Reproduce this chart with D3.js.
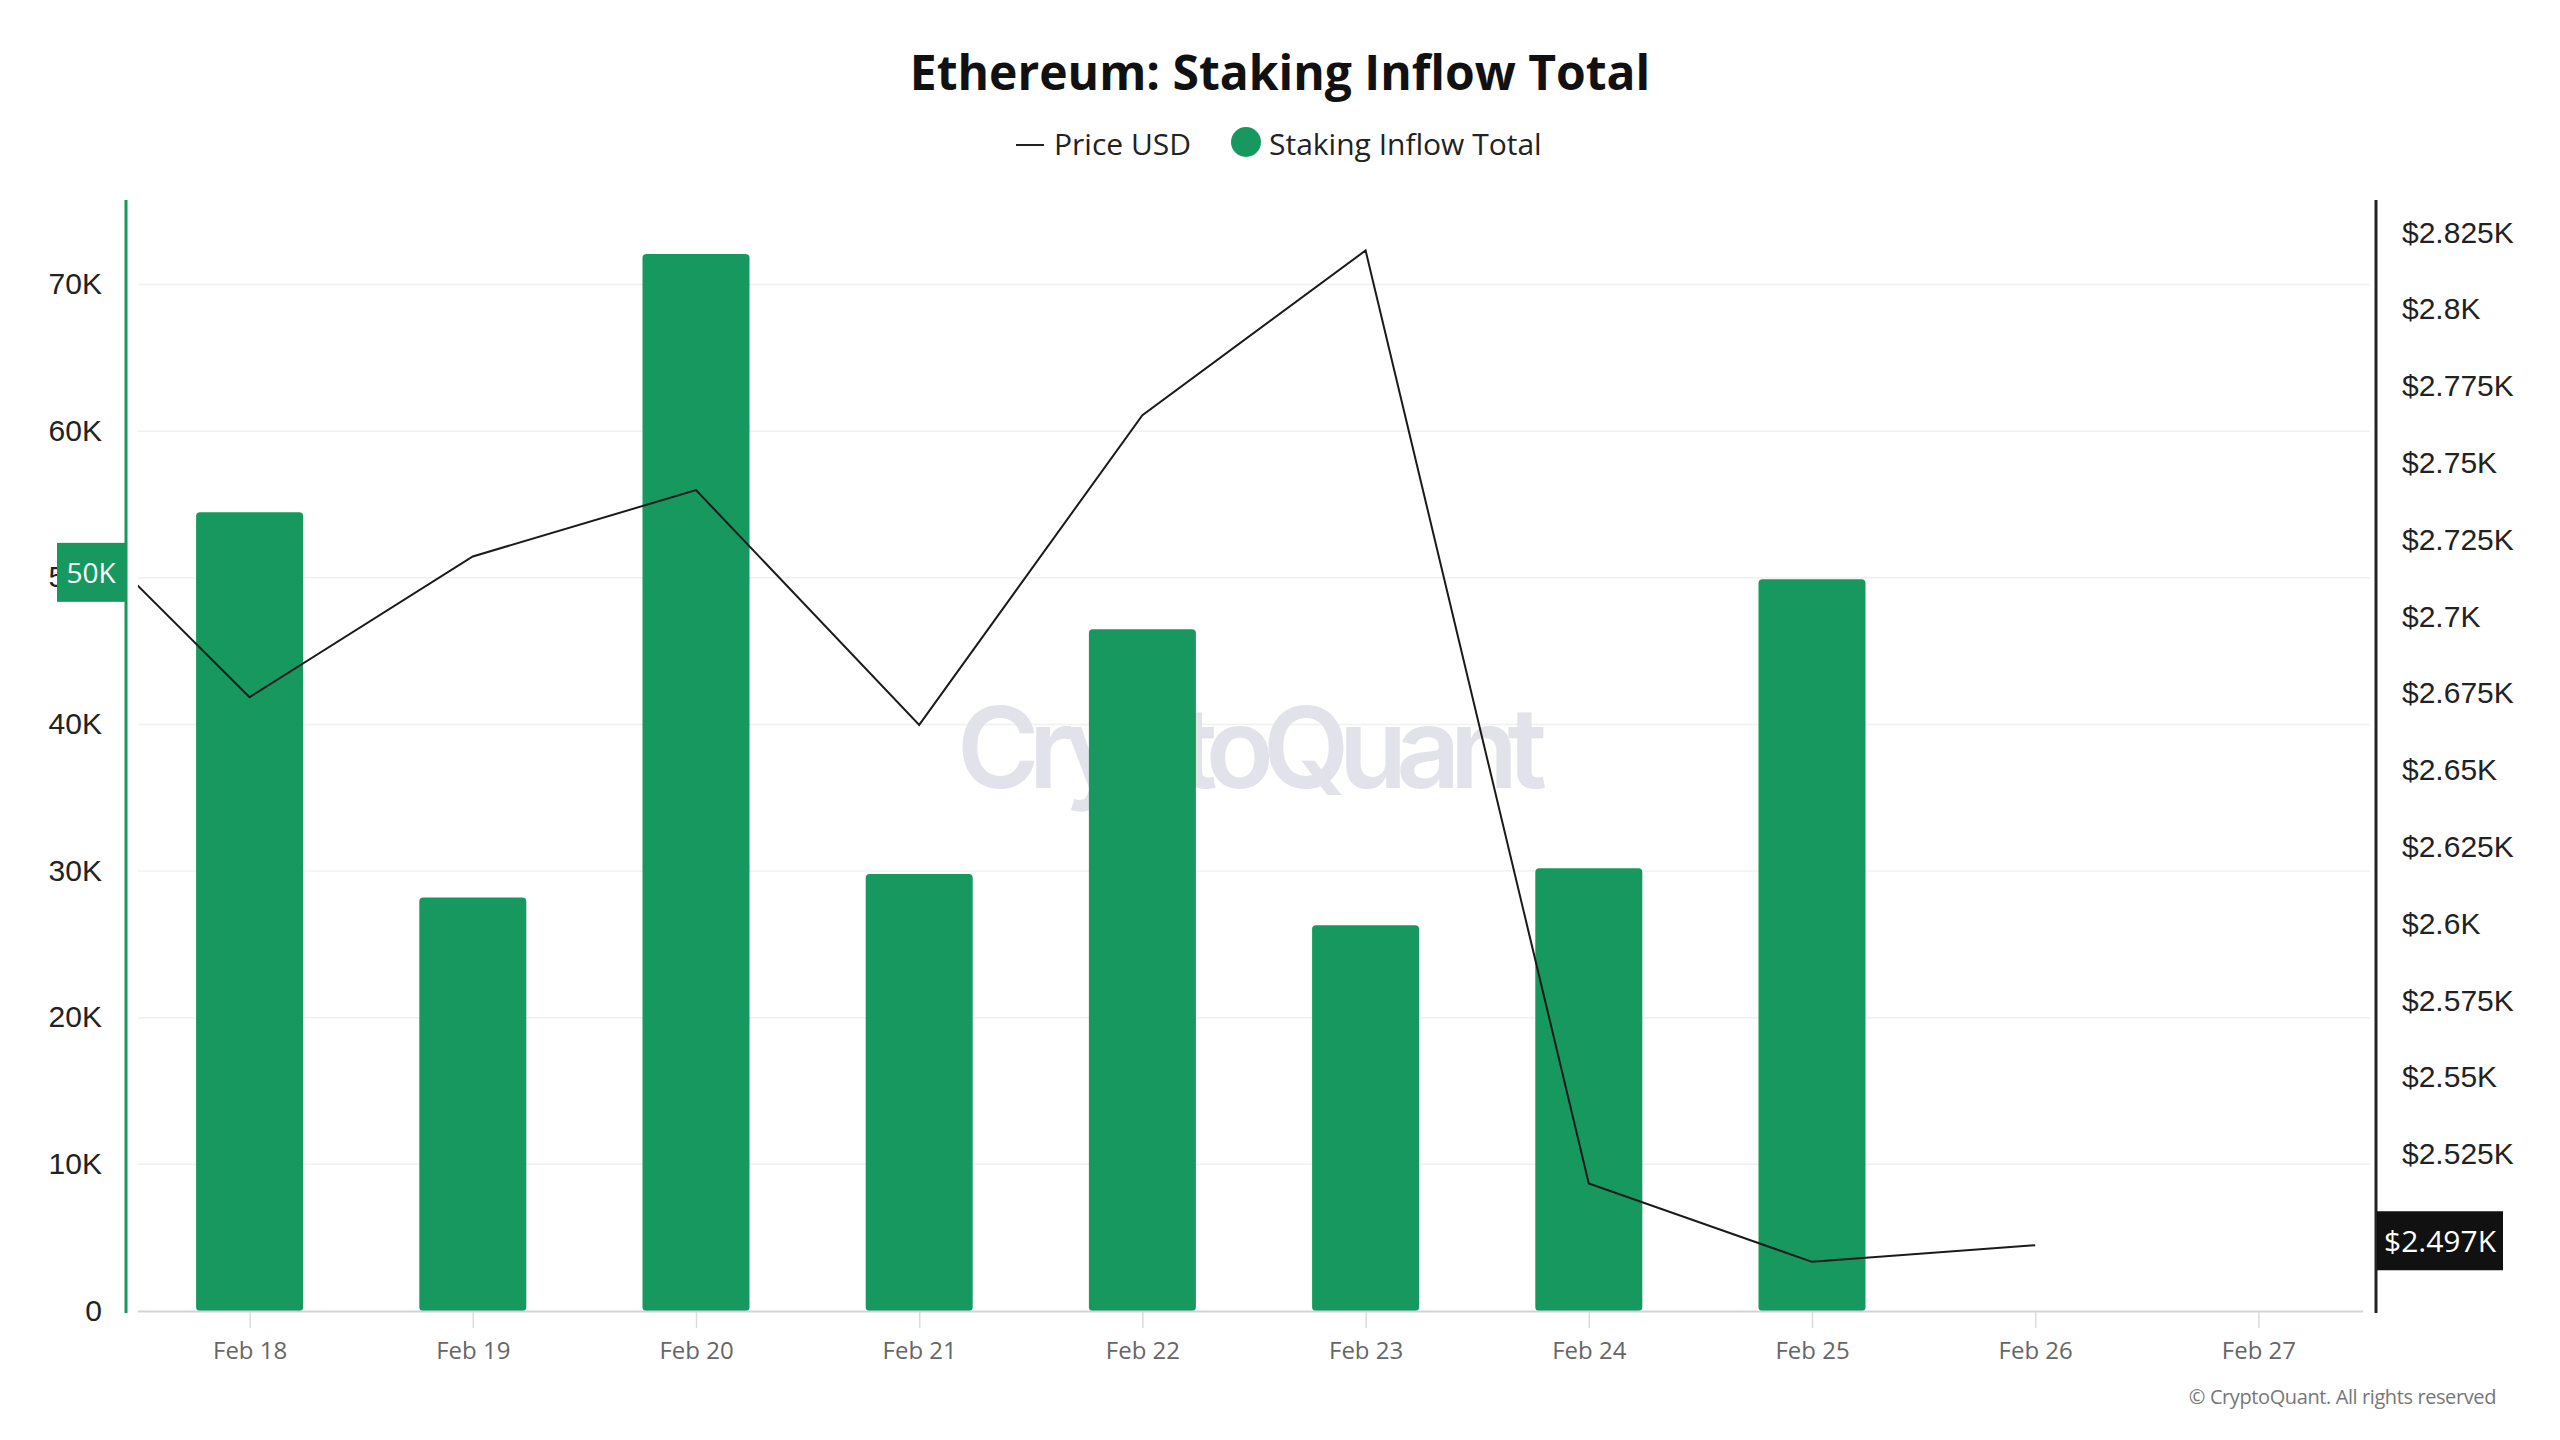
<!DOCTYPE html>
<html>
<head>
<meta charset="utf-8">
<script src="https://cdn.jsdelivr.net/npm/d3@7"></script>
<style>
  body { margin: 0; background: #fff; }
  svg { display: block; font-family: "Open Sans", sans-serif; }
</style>
</head>
<body>
<script>
// data
const dates = ["2025-02-18", "2025-02-19", "2025-02-20", "2025-02-21", "2025-02-22",
               "2025-02-23", "2025-02-24", "2025-02-25", "2025-02-26", "2025-02-27"];
const inflowDates = ["2025-02-18", "2025-02-19", "2025-02-20", "2025-02-21",
                     "2025-02-22", "2025-02-23", "2025-02-24", "2025-02-25"];
const inflowValues = [54480, 28200, 72080, 29800, 46500, 26300, 30200, 49900];
const priceDates = ["2025-02-17", "2025-02-18", "2025-02-19", "2025-02-20", "2025-02-21",
                    "2025-02-22", "2025-02-23", "2025-02-24", "2025-02-25", "2025-02-26"];
const priceValues = [2747.8, 2675.4, 2721.2, 2742.8, 2666.4, 2767.2, 2820.8, 2517.1, 2491.6, 2497];
const leftTicks = [0, 10000, 20000, 30000, 40000, 50000, 60000, 70000];
const rightTicks = [2525, 2550, 2575, 2600, 2625, 2650, 2675, 2700, 2725, 2750, 2775, 2800, 2825];
const lastPrice = 2497;
const highlightInflow = 50000;

const parse = d3.timeParse("%Y-%m-%d");

const width = 2560, height = 1440;
const plot = { left: 138, right: 2370, top: 201, bottom: 1311 };
const green = "#16985e";

const svg = d3.select("body").append("svg")
    .attr("width", width)
    .attr("height", height);

const x = d3.scaleTime()
    .domain([d3.timeHour.offset(parse("2025-02-18"), -12), d3.timeHour.offset(parse("2025-02-27"), 12)])
    .range([plot.left, plot.right]);

const yLeft = d3.scaleLinear()
    .domain([0, 75700])
    .range([plot.bottom, plot.top]);

const yRight = d3.scaleLinear()
    .domain([2475.6, 2836.9])
    .range([plot.bottom, plot.top]);

// title
svg.append("text")
    .attr("x", 1280)
    .attr("y", 90)
    .attr("text-anchor", "middle")
    .attr("font-size", 48)
    .attr("font-weight", 700)
    .attr("fill", "#111")
    .text("Ethereum: Staking Inflow Total");

// legend
const legend = svg.append("g");
legend.append("line")
    .attr("x1", 1016).attr("x2", 1044)
    .attr("y1", 145).attr("y2", 145)
    .attr("stroke", "#222").attr("stroke-width", 2);
legend.append("text")
    .attr("x", 1054).attr("y", 155)
    .attr("font-size", 30).attr("fill", "#222")
    .text("Price USD");
legend.append("circle")
    .attr("cx", 1246).attr("cy", 142).attr("r", 15)
    .attr("fill", green);
legend.append("text")
    .attr("x", 1269).attr("y", 155)
    .attr("font-size", 30).attr("fill", "#222")
    .text("Staking Inflow Total");

// gridlines
svg.append("g")
    .selectAll("line")
    .data(leftTicks.filter(d => d > 0))
    .join("line")
    .attr("x1", plot.left).attr("x2", plot.right)
    .attr("y1", d => yLeft(d)).attr("y2", d => yLeft(d))
    .attr("stroke", "#f0f0f0").attr("stroke-width", 1.5);

// watermark
svg.append("text")
    .attr("x", 1252)
    .attr("y", 788)
    .attr("text-anchor", "middle")
    .attr("font-family", "Inter, sans-serif")
    .attr("font-size", 112)
    .attr("font-weight", 600)
    .attr("fill", "#e2e2ea")
    .attr("textLength", 590)
    .text("CryptoQuant");

// bars
svg.append("g")
    .selectAll("rect")
    .data(inflowDates.map((d, i) => ({ date: parse(d), value: inflowValues[i] })))
    .join("rect")
    .attr("x", d => x(d.date) - 53.5)
    .attr("width", 107)
    .attr("y", d => yLeft(d.value))
    .attr("height", d => yLeft(0) - yLeft(d.value))
    .attr("rx", 4)
    .attr("fill", green);

// x axis
const xAxis = svg.append("g")
    .attr("transform", `translate(0, ${plot.bottom})`)
    .call(d3.axisBottom(x)
        .tickValues(dates.map(parse))
        .tickFormat(d3.timeFormat("%b %-d"))
        .tickSize(17)
        .tickPadding(14));
xAxis.select(".domain").remove();
xAxis.selectAll(".tick line").attr("stroke", "#d8dce0").attr("stroke-width", 1.5);
xAxis.selectAll(".tick text")
    .attr("font-size", 24)
    .attr("fill", "#666")
    .attr("font-family", "'Open Sans', sans-serif");
svg.append("line")
    .attr("x1", plot.left).attr("x2", 2363)
    .attr("y1", plot.bottom + 0.5).attr("y2", plot.bottom + 0.5)
    .attr("stroke", "#d0d4d8").attr("stroke-width", 2);

// price line
svg.append("clipPath").attr("id", "plot-clip")
    .append("rect")
    .attr("x", plot.left).attr("y", plot.top)
    .attr("width", plot.right - plot.left).attr("height", plot.bottom - plot.top);

const line = d3.line()
    .x(d => x(d.date))
    .y(d => yRight(d.value));

svg.append("path")
    .datum(priceDates.map((d, i) => ({ date: parse(d), value: priceValues[i] })))
    .attr("clip-path", "url(#plot-clip)")
    .attr("d", line)
    .attr("fill", "none")
    .attr("stroke", "#1a1a1a")
    .attr("stroke-width", 2);

// left axis
const leftAxis = svg.append("g")
    .attr("transform", "translate(126, 0)")
    .call(d3.axisLeft(yLeft)
        .tickValues(leftTicks)
        .tickSize(0)
        .tickPadding(24)
        .tickFormat(d => d === 0 ? "0" : (d / 1000) + "K"));
leftAxis.select(".domain").remove();
leftAxis.selectAll(".tick text")
    .attr("font-size", 30)
    .attr("fill", "#222")
    .attr("dy", "0.3em");
svg.append("line")
    .attr("x1", 126).attr("x2", 126)
    .attr("y1", 200).attr("y2", 1313)
    .attr("stroke", green).attr("stroke-width", 3);

// right axis
const rightAxis = svg.append("g")
    .attr("transform", "translate(2376, 0)")
    .call(d3.axisRight(yRight)
        .tickValues(rightTicks)
        .tickSize(0)
        .tickPadding(26)
        .tickFormat(d => "$" + (d / 1000) + "K"));
rightAxis.select(".domain").remove();
rightAxis.selectAll(".tick text")
    .attr("font-size", 30)
    .attr("fill", "#222")
    .attr("dy", "0.15em");
svg.append("line")
    .attr("x1", 2376).attr("x2", 2376)
    .attr("y1", 200).attr("y2", 1313)
    .attr("stroke", "#222").attr("stroke-width", 3);

// current value markers
const leftMark = svg.append("g")
    .attr("transform", `translate(0, ${yLeft(highlightInflow) - 5})`);
leftMark.append("rect")
    .attr("x", 57).attr("y", -30)
    .attr("width", 68).attr("height", 59)
    .attr("fill", green);
leftMark.append("text")
    .attr("x", 91).attr("y", 0)
    .attr("dy", "0.35em")
    .attr("text-anchor", "middle")
    .attr("font-size", 28)
    .attr("fill", "#fff")
    .text((highlightInflow / 1000) + "K");

const rightMark = svg.append("g")
    .attr("transform", `translate(0, ${yRight(lastPrice) - 4})`);
rightMark.append("rect")
    .attr("x", 2377).attr("y", -30)
    .attr("width", 126).attr("height", 59)
    .attr("fill", "#111");
rightMark.append("text")
    .attr("x", 2440).attr("y", 0)
    .attr("dy", "0.35em")
    .attr("text-anchor", "middle")
    .attr("font-size", 30)
    .attr("fill", "#fff")
    .text("$" + (lastPrice / 1000) + "K");

// copyright
svg.append("text")
    .attr("x", 2496).attr("y", 1404)
    .attr("text-anchor", "end")
    .attr("font-size", 20)
    .attr("letter-spacing", -0.4)
    .attr("fill", "#777")
    .text("© CryptoQuant. All rights reserved");
</script>
</body>
</html>
